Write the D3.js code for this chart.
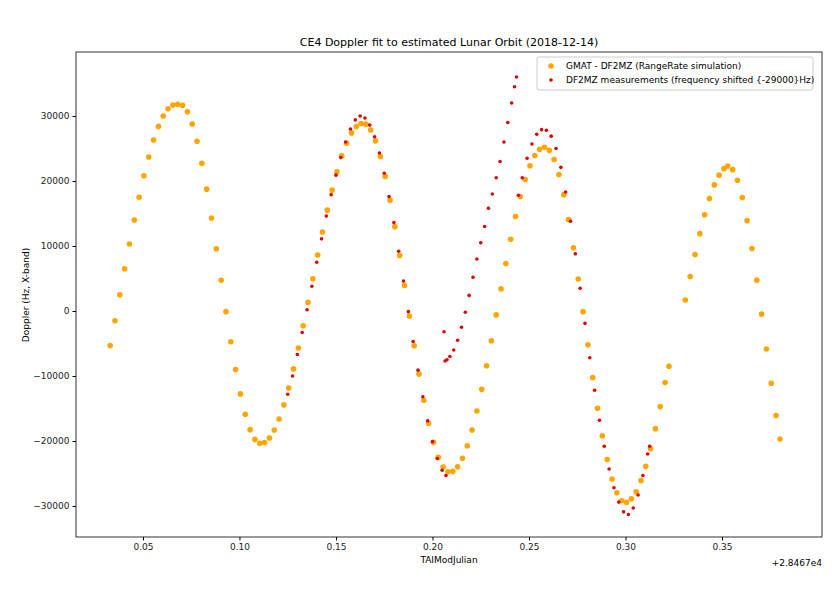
<!DOCTYPE html>
<html><head><meta charset="utf-8">
<script src="https://cdn.jsdelivr.net/npm/d3@7"></script>
<style>body{margin:0;background:#fff}text{font-family:"DejaVu Sans",sans-serif}</style>
</head><body><svg id="c" width="840" height="591"></svg>
<script>
const title = "CE4 Doppler fit to estimated Lunar Orbit (2018-12-14)";
const xTicks = [0.05,0.10,0.15,0.20,0.25,0.30,0.35];
const yTicks = [-30000,-20000,-10000,0,10000,20000,30000];
const gmatX = [0.0330,0.0355,0.0380,0.0405,0.0430,0.0455,0.0480,0.0505,0.0530,0.0555,0.0580,0.0605,0.0630,0.0655,0.0680,
0.0705,0.0730,0.0755,0.0780,0.0805,0.0830,0.0855,0.0880,0.0905,0.0930,0.0955,0.0980,0.1005,0.1030,0.1055,0.1080,0.1105,
0.1130,0.1155,0.1180,0.1205,0.1230,0.1255,0.1280,0.1305,0.1330,0.1355,0.1380,0.1405,0.1430,0.1455,0.1480,0.1505,0.1530,0.1555,0.1580,0.1605,0.1630,
0.1655,0.1680,0.1705,0.1730,0.1755,0.1780,0.1805,0.1830,0.1855,0.1880,0.1905,0.1930,0.1955,0.1980,0.2005,0.2030,0.2055,0.2080,
0.2105,0.2130,0.2155,0.2180,0.2205,0.2230,0.2255,0.2280,0.2305,0.2330,0.2355,0.2380,0.2405,0.2430,0.2455,0.2480,0.2505,0.2530,0.2555,
0.2580,0.2605,0.2630,0.2655,0.2680,0.2705,0.2730,0.2755,0.2780,0.2805,0.2830,0.2855,0.2880,0.2905,0.2930,0.2955,0.2980,
0.3005,0.3030,0.3055,0.3080,0.3105,0.3130,0.3155,0.3180,0.3205,0.3225,
0.3310,0.3335,0.3360,0.3385,0.3410,0.3435,0.3460,0.3485,0.3510,0.3530,
0.3555,0.3580,0.3605,0.3630,0.3655,0.3680,0.3705,0.3730,0.3755,0.3780,0.3800];
const gmatY = [-5300,-1500,2500,6500,10300,14000,17500,20800,23700,26300,28400,30000,31100,31700,31800,
31640,30640,28780,26110,22720,18750,14320,9590,4730,-100,-4740,-9000,-12750,-15880,-18250,-19750,-20360,
-20230,-19530,-18310,-16610,-14440,-11850,-8910,-5680,-2260,1340,4970,8610,12160,15520,18600,21410,23870,25820,27400,28380,28850,
28750,27850,26180,23770,20710,17060,12980,8550,3930,-770,-5360,-9710,-13740,-17280,-20210,-22490,-24000,-24740,
-24680,-23980,-22650,-20750,-18300,-15380,-12050,-8430,-4580,-600,3400,7300,11050,14530,17600,20230,22350,23930,24880,
25200,24720,23310,21010,17900,14070,9720,4930,-100,-5210,-10220,-14950,-19190,-22850,-25840,-27970,-29200,
-29450,-28900,-27800,-26100,-23900,-21200,-18100,-14700,-11000,-8500,
1700,5300,8700,11900,14800,17300,19400,20900,21900,22300,
21750,20120,17470,13900,9610,4750,-480,-5850,-11110,-16080,-19700];
const measX = [0.1250,0.1275,0.1300,0.1325,0.1350,0.1375,0.1400,0.1425,0.1450,0.1475,0.1500,0.1525,0.1550,0.1575,0.1600,0.1625,0.1650,0.1675,0.1700,0.1725,0.1750,0.1775,0.1800,0.1825,0.1850,0.1875,0.1900,0.1925,0.1950,0.1975,0.2000,0.2025,0.2050,0.2070,
0.2060,0.2065,0.2075,0.2090,0.2110,0.2130,0.2150,0.2170,0.2190,0.2210,0.2230,0.2250,0.2270,0.2290,0.2310,0.2330,0.2350,0.2370,0.2390,0.2410,0.2425,0.2435,
0.2445,0.2465,0.2490,0.2515,0.2540,0.2565,0.2590,0.2615,0.2640,0.2665,0.2690,0.2715,0.2740,0.2765,0.2790,0.2815,0.2840,0.2865,0.2890,0.2915,0.2940,0.2965,0.2990,0.3015,0.3040,0.3065,0.3090,0.3115,0.3125];
const measY = [-12800,-10000,-6700,-3300,200,3800,7500,11100,14600,17900,20900,23600,26000,28000,29400,30000,29700,28600,26800,24300,21200,17600,13600,9200,4600,-100,-4700,-9100,-13200,-16900,-20100,-22700,-24500,-25300,
-3200,-7700,-7500,-7000,-6000,-4500,-2500,-200,2400,5200,8000,10500,13000,15800,18000,20500,23000,26000,29000,32000,34500,36000,
17800,20500,23500,25700,27200,27900,27800,26900,25000,22100,18300,13800,8800,3500,-1900,-7200,-12200,-16800,-20800,-24300,-27200,-29400,-30900,-31300,-30300,-28300,-25300,-22000,-20800];
const names = ["GMAT - DF2MZ (RangeRate simulation)","DF2MZ measurements (frequency shifted {-29000}Hz)"];

const svg = d3.select("#c");
const L=76,R=822,T=52,B=537;
const x = d3.scaleLinear().domain([0.0153,0.4018]).range([L,R]);
const y = d3.scaleLinear().domain([-34770,39850]).range([B,T]);
const xa = svg.append("g").attr("transform",`translate(0,${B})`).call(d3.axisBottom(x).tickValues(xTicks).tickFormat(d3.format(".2f")).tickSize(3.5).tickSizeOuter(0));
const ya = svg.append("g").attr("transform",`translate(${L},0)`).call(d3.axisLeft(y).tickValues(yTicks).tickFormat(d=>String(d).replace("-","−")).tickSize(3.5).tickSizeOuter(0));
[xa,ya].forEach(a=>{a.select(".domain").remove();a.selectAll("text").attr("font-size",9).attr("fill","#222");});
svg.append("rect").attr("x",L).attr("y",T).attr("width",R-L).attr("height",B-T).attr("fill","none").attr("stroke","#000").attr("stroke-width",0.8);
const g = gmatX.map((v,i)=>[v,gmatY[i]]);
const m = measX.map((v,i)=>[v,measY[i]]);
svg.append("g").selectAll("circle").data(g).join("circle").attr("cx",d=>x(d[0])).attr("cy",d=>y(d[1])).attr("r",2.8).attr("fill","orange");
svg.append("g").selectAll("circle").data(m).join("circle").attr("cx",d=>x(d[0])).attr("cy",d=>y(d[1])).attr("r",1.8).attr("fill","#e00000");
svg.append("text").attr("x",(L+R)/2).attr("y",46).attr("text-anchor","middle").attr("font-size",11).text(title);
svg.append("text").attr("x",(L+R)/2).attr("y",563).attr("text-anchor","middle").attr("font-size",9).text("TAIModJulian");
svg.append("text").attr("x",R).attr("y",566).attr("text-anchor","end").attr("font-size",9).text("+2.8467e4");
svg.append("text").attr("transform","translate(29,295) rotate(-90)").attr("text-anchor","middle").attr("font-size",9).text("Doppler (Hz, X-band)");
const lg = svg.append("g");
lg.append("rect").attr("x",537).attr("y",57).attr("width",276).attr("height",33).attr("rx",2).attr("fill","#fff").attr("fill-opacity",0.8).attr("stroke","#ccc");
lg.append("circle").attr("cx",551).attr("cy",66).attr("r",2.8).attr("fill","orange");
lg.append("circle").attr("cx",551).attr("cy",80).attr("r",1.8).attr("fill","#e00000");
lg.append("text").attr("x",566).attr("y",69).attr("font-size",9).text(names[0]);
lg.append("text").attr("x",566).attr("y",83).attr("font-size",9).text(names[1]);
</script></body></html>
